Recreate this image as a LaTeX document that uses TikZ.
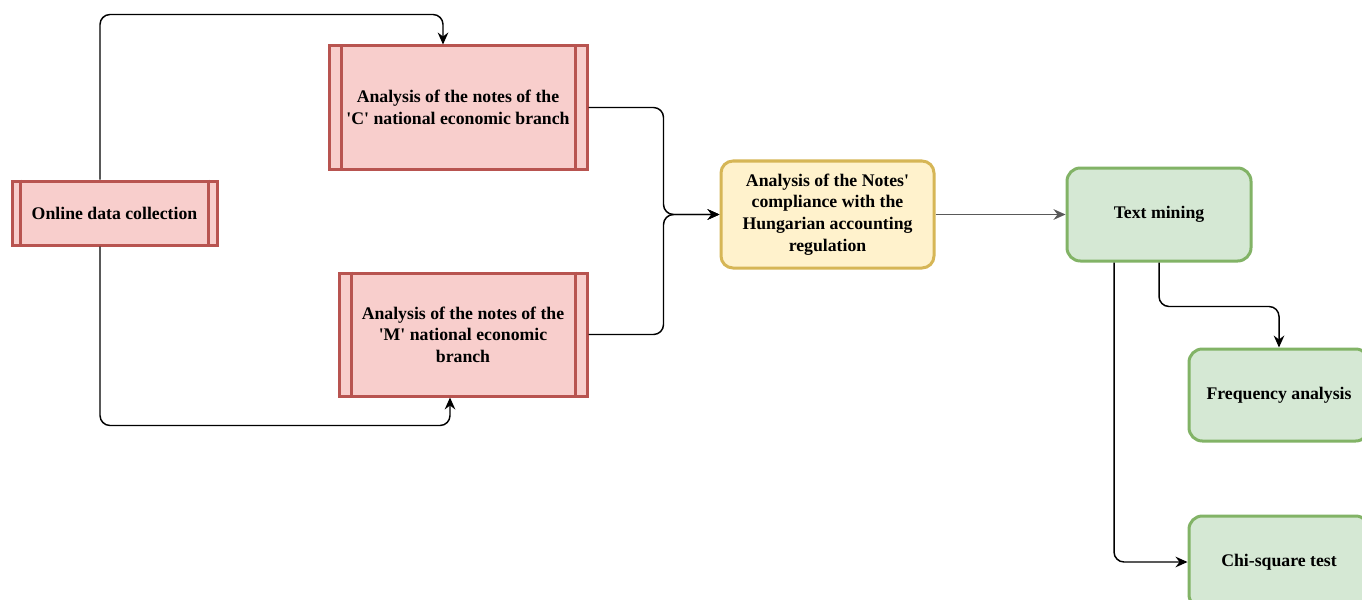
\documentclass[tikz,border=0pt]{standalone}
\usepackage{fontspec}
\setmainfont{Liberation Serif}[Ligatures=TeXOff]
\usetikzlibrary{arrows.meta,calc}
\definecolor{redline}{HTML}{B85450}
\definecolor{redfill}{HTML}{F8CECC}
\definecolor{yelline}{HTML}{D6B656}
\definecolor{yelfill}{HTML}{FFF2CC}
\definecolor{grnline}{HTML}{82B366}
\definecolor{grnfill}{HTML}{D5E8D4}
\tikzset{
  lbl/.style={font=\fontsize{13.3}{16.2}\selectfont\bfseries, align=center, text=black},
  subproc/.style={lbl, draw=redline, fill=redfill, line width=2.25pt, rectangle, inner sep=0pt},
  subline/.style={draw=redline, line width=2.25pt},
  yelbox/.style={lbl, draw=yelline, fill=yelfill, line width=2.25pt, rectangle, rounded corners=9pt, inner sep=0pt},
  grnbox/.style={lbl, draw=grnline, fill=grnfill, line width=2.25pt, rectangle, rounded corners=10pt, inner sep=0pt},
  conn/.style={draw=black, line width=1.1pt, rounded corners=7.5pt, -{Stealth[length=9pt,width=8pt,inset=3pt]}},
}
\begin{document}
\begin{tikzpicture}[x=0.75pt,y=-0.75pt]
\useasboundingbox (0,0) rectangle (1362,599);
\clip (0,0) rectangle (1362,599);
\fill[white] (0,0) rectangle (1362,599);

% nodes
\node[subproc, minimum width=205*0.75pt, minimum height=64*0.75pt] (on) at (114.5,213) {Online data collection};
\node[subproc, minimum width=258*0.75pt, minimum height=123*0.75pt] (C) at (458,107.5) {Analysis of the notes of the\\'C' national economic branch};
\node[subproc, minimum width=248*0.75pt, minimum height=123*0.75pt] (M) at (463,334.5) {Analysis of the notes of the\\'M' national economic\\branch};
\node[yelbox, minimum width=213*0.75pt, minimum height=107*0.75pt] (Y) at (827.5,214.5) {Analysis of the Notes'\\compliance with the\\Hungarian accounting\\regulation};
\node[grnbox, minimum width=184*0.75pt, minimum height=93*0.75pt] (T) at (1159,214.5) {Text mining};
\node[grnbox, minimum width=180*0.75pt, minimum height=92*0.75pt] (F) at (1279,395) {Frequency analysis};
\node[grnbox, minimum width=180*0.75pt, minimum height=92*0.75pt] (X) at (1279,562) {Chi-square test};

% subprocess inner lines
\draw[subline] ($(on.north west)+(10,0)$) -- ($(on.south west)+(10,0)$);
\draw[subline] ($(on.north east)+(-10,0)$) -- ($(on.south east)+(-10,0)$);
\draw[subline] ($(C.north west)+(14,0)$) -- ($(C.south west)+(14,0)$);
\draw[subline] ($(C.north east)+(-13,0)$) -- ($(C.south east)+(-13,0)$);
\draw[subline] ($(M.north west)+(14,0)$) -- ($(M.south west)+(14,0)$);
\draw[subline] ($(M.north east)+(-13,0)$) -- ($(M.south east)+(-13,0)$);

% connectors
\draw[conn] ($(on.north)+(-14.5,0)$) -- ++(0,-165) -| ($(C.north)+(-15,0)$);
\draw[conn] ($(on.south)+(-14.5,0)$) -- ++(0,179) -| ($(M.south)+(-13,0)$);
\draw[conn] (C.east) -- ++(75,0) |- (Y.west);
\draw[conn] (M.east) -- ++(75,0) |- (Y.west);
\draw[conn, draw=black!65] (Y.east) -- (T.west);
\draw[conn] (T.south) -- ++(0,44) -| (F.north);
\draw[conn] ($(T.south)+(-45,0)$) |- (X.west);
\end{tikzpicture}
\end{document}
